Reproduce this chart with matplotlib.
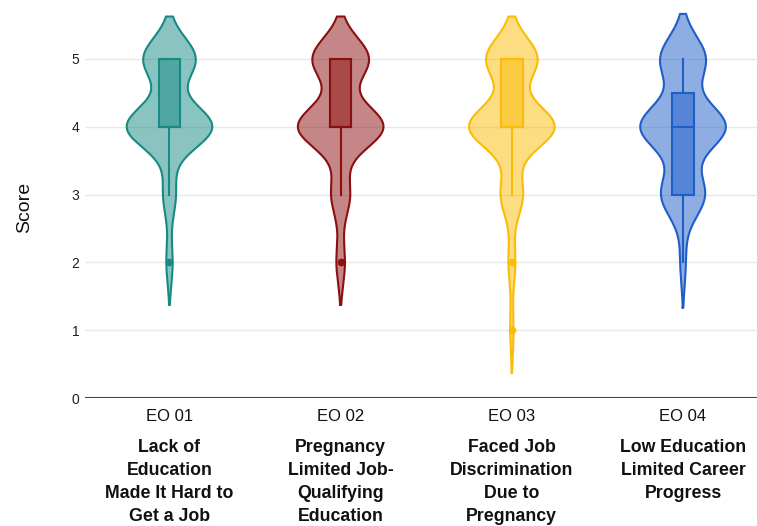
import numpy as np
import matplotlib
matplotlib.use("Agg")
import matplotlib.pyplot as plt
from matplotlib.patches import Rectangle
from matplotlib.transforms import blended_transform_factory

# Survey items and their response counts on the 1-5 scale
codes = ["EO 01", "EO 02", "EO 03", "EO 04"]
descriptions = [
    "Lack of\nEducation\nMade It Hard to\nGet a Job",
    "Pregnancy\nLimited Job-\nQualifying\nEducation",
    "Faced Job\nDiscrimination\nDue to\nPregnancy",
    "Low Education\nLimited Career\nProgress",
]
scale_points = [1, 2, 3, 4, 5]
eo01_counts = [0, 4, 8, 54, 33]
eo02_counts = [0, 5, 11, 50, 33]
eo03_counts = [2, 4, 13, 50, 30]
eo04_counts = [0, 3, 24, 47, 25]
all_counts = [eo01_counts, eo02_counts, eo03_counts, eo04_counts]
colors = ["#178a84", "#8b0f0f", "#fbbc05", "#1f5ec8"]

VIOLIN_HALF = 0.25
BOX_HALF = 0.0625

fig = plt.figure(figsize=(7.57, 5.26), dpi=100)
ax = fig.add_axes([85 / 757, 128 / 526, 672 / 757, 398 / 526])


def silverman_bw(samples):
    q1, q3 = np.percentile(samples, [25, 75])
    spread = min(np.std(samples, ddof=1), (q3 - q1) / 1.349)
    return 1.059 * spread * len(samples) ** (-0.2)


for i, (counts, col) in enumerate(zip(all_counts, colors)):
    samples = np.repeat(scale_points, counts).astype(float)
    bw = silverman_bw(samples)
    lo, hi = samples.min() - 2 * bw, samples.max() + 2 * bw
    grid = np.linspace(lo, hi, 400)
    dens = np.exp(-0.5 * ((grid[:, None] - samples[None, :]) / bw) ** 2).sum(axis=1)
    half = dens / dens.max() * VIOLIN_HALF

    ax.fill_betweenx(grid, i - half, i + half, facecolor=col, alpha=0.5,
                     edgecolor="none", zorder=2)
    outline_x = np.concatenate([i - half, (i + half)[::-1], [i - half[0]]])
    outline_y = np.concatenate([grid, grid[::-1], [grid[0]]])
    ax.plot(outline_x, outline_y, color=col, lw=1.5, zorder=3,
            solid_joinstyle="round")

    q1, med, q3 = np.percentile(samples, [25, 50, 75])
    iqr = q3 - q1
    low_w = samples[samples >= q1 - 1.5 * iqr].min()
    high_w = samples[samples <= q3 + 1.5 * iqr].max()
    outliers = np.unique(samples[(samples < low_w) | (samples > high_w)])

    ax.add_patch(Rectangle((i - BOX_HALF, q1), 2 * BOX_HALF, q3 - q1,
                           facecolor=col, alpha=0.5, edgecolor="none", zorder=4))
    ax.add_patch(Rectangle((i - BOX_HALF, q1), 2 * BOX_HALF, q3 - q1,
                           facecolor="none", edgecolor=col, lw=1.5, zorder=5))
    ax.plot([i - BOX_HALF, i + BOX_HALF], [med, med], color=col, lw=1.5, zorder=5)
    if low_w < q1:
        ax.plot([i, i], [low_w, q1], color=col, lw=1.5, zorder=5)
    if high_w > q3:
        ax.plot([i, i], [q3, high_w], color=col, lw=1.5, zorder=5)
    ax.plot(np.full(len(outliers), i), outliers, "o", color=col, ms=4.5,
            mec=col, zorder=6)

ax.set_xlim(-0.4936, 3.432)
ax.set_ylim(0, 5.87)
ax.set_yticks(range(6))
ax.set_xticks(range(4))
ax.set_xticklabels(codes, fontsize=12, family="Liberation Sans", color="#111111")
ax.set_yticklabels([str(v) for v in range(6)], fontsize=10, family="Liberation Sans",
                   color="#222222")
ax.tick_params(axis="both", length=0)
ax.tick_params(axis="x", pad=8)
ax.tick_params(axis="y", pad=4)
for s in ax.spines.values():
    s.set_visible(False)
ax.yaxis.grid(True, color="#e8e8e8", lw=1)
ax.set_axisbelow(True)
ax.axhline(0, color="#444444", lw=1.5, zorder=1)

ax.set_ylabel("Score", fontsize=14, family="Liberation Sans", color="#111111")
ax.yaxis.set_label_coords(-52 / 672, (398 - 207) / 398)

trans = blended_transform_factory(ax.transData, fig.transFigure)
for i, text in enumerate(descriptions):
    ax.text(i, 1 - 439 / 526, text, transform=trans, ha="center", va="top",
            fontsize=12.8, fontweight="bold", family="Liberation Sans",
            color="#111111", linespacing=1.46, multialignment="center")

fig.savefig("out.png", dpi=100)
